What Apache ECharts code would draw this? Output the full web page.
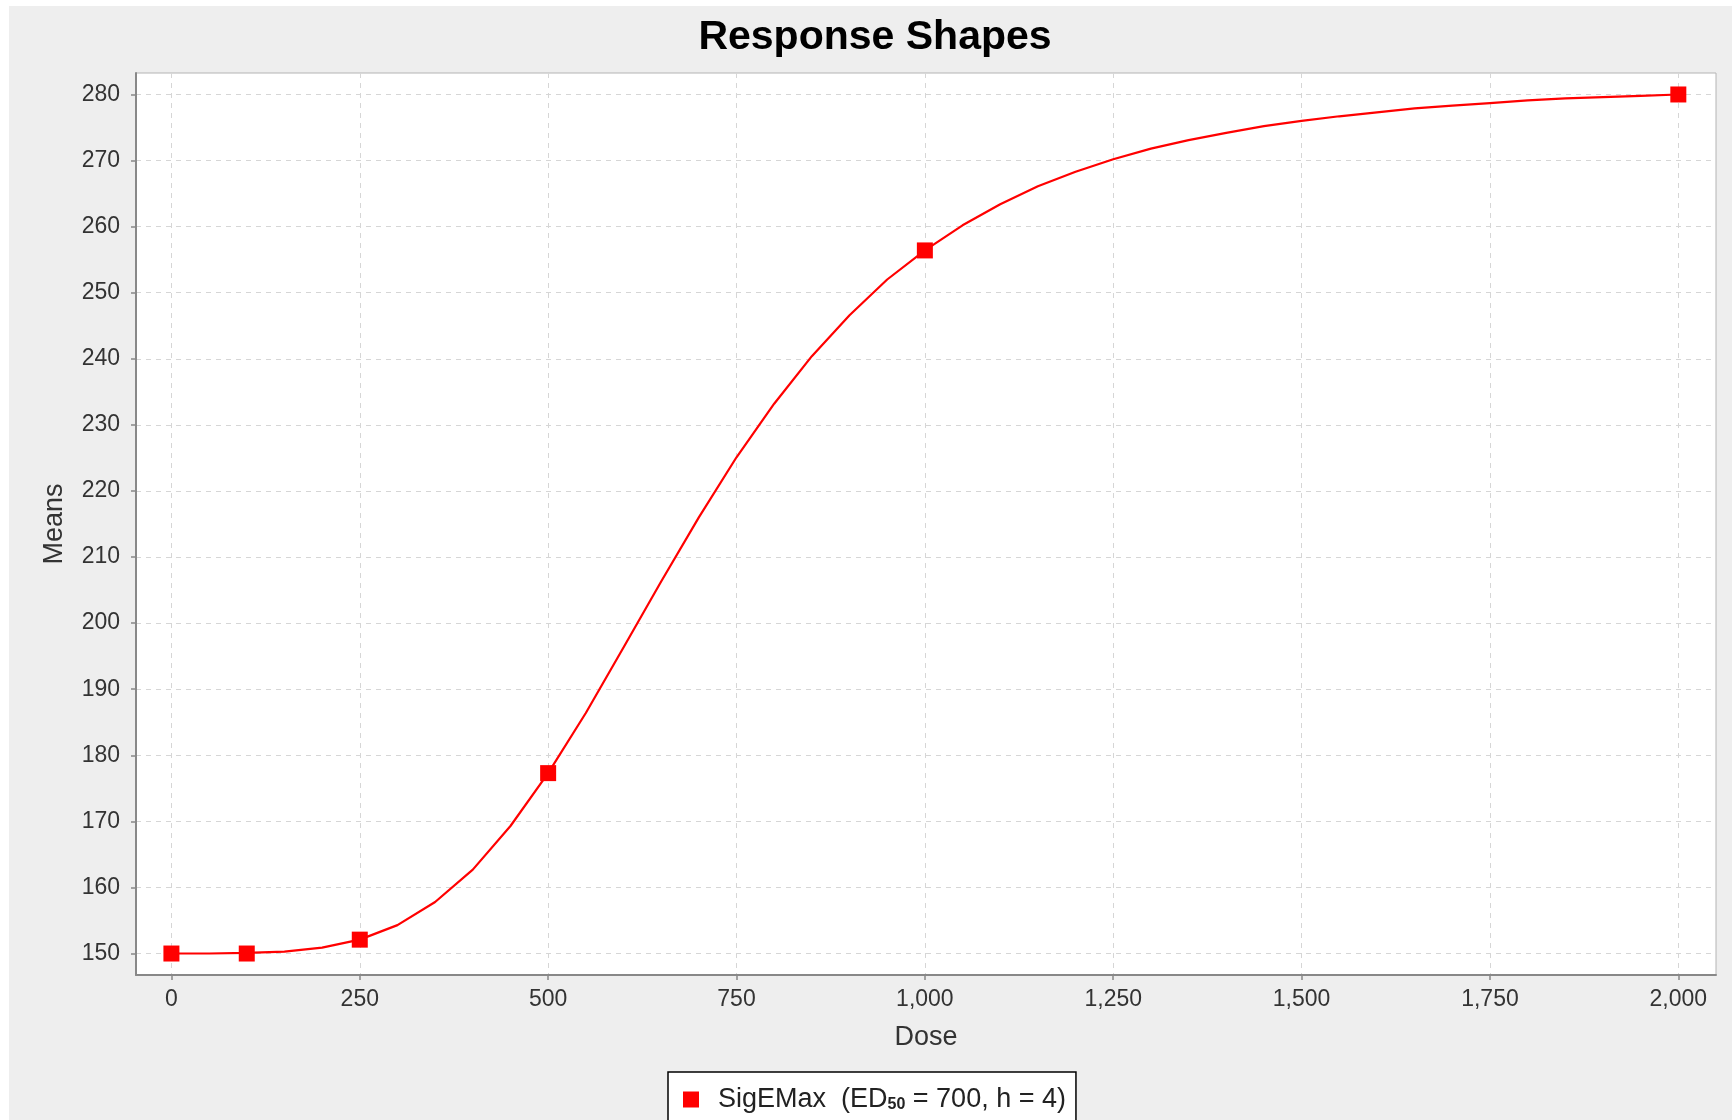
<!DOCTYPE html>
<html><head><meta charset="utf-8">
<script src="https://cdn.jsdelivr.net/npm/echarts@6/dist/echarts.min.js"></script>
<style>
html,body{margin:0;padding:0;background:#fff;width:1735px;height:1120px;overflow:hidden;}
#c{position:absolute;left:9px;top:6px;width:1723px;height:1114px;}
</style>
</head><body><div id="c"></div>
<script>
const titleText = 'Response Shapes';
const seriesName = 'SigEMax';
const xName = 'Dose';
const yName = 'Means';
// curve (dose, mean)
const curveDose = [0,50,100,150,200,250,300,350,400,450,500,550,600,650,700,750,800,850,900,950,1000,1050,1100,1150,1200,1250,1300,1350,1400,1450,1500,1550,1600,1650,1700,1750,1800,1850,1900,1950,2000];
const curveMean = [150.0,150.0,150.1,150.3,150.9,152.1,154.3,157.8,162.7,169.3,177.3,186.4,196.3,206.3,216.0,225.1,233.2,240.4,246.6,252.0,256.4,260.2,263.4,266.1,268.3,270.2,271.8,273.1,274.2,275.2,276.0,276.7,277.3,277.9,278.3,278.7,279.1,279.4,279.6,279.8,280.0];
// marked points
const pointDose = [0,100,250,500,1000,2000];
const pointMean = [150.0,150.0,152.1,177.3,256.4,280.0];
// tick labels
const xTicks = [0,250,500,750,1000,1250,1500,1750,2000];
const yTicks = [150,160,170,180,190,200,210,220,230,240,250,260,270,280];
const legendLabel = 'SigEMax  (ED{sub|50} = 700, h = 4)';

const FONT = '"Liberation Sans", Arial, sans-serif';
const chart = echarts.init(document.getElementById('c'));
const fmtX = v => Number(v).toLocaleString('en-US');

chart.setOption({
  animation: false,
  backgroundColor: '#EEEEEE',
  textStyle: { fontFamily: FONT },
  title: {
    text: titleText, left: 861, top: 6, textAlign: 'center',
    textStyle: { fontSize: 41, fontWeight: 'bold', color: '#000', fontFamily: FONT }
  },
  grid: {
    left: 127, top: 67, width: 1580, height: 902,
    show: true, backgroundColor: '#fff', borderColor: '#b4b4b4', borderWidth: 1
  },
  legend: {
    data: [seriesName], left: 659, top: 1066,
    icon: 'rect', itemWidth: 16, itemHeight: 16,
    padding: [14, 10, 14, 15],
    borderColor: '#000', borderWidth: 1.5, backgroundColor: '#fff',
    formatter: () => legendLabel,
    textStyle: {
      fontSize: 27, color: '#222', fontFamily: FONT, padding: [0, 0, 0, 14],
      rich: { sub: { fontSize: 16, fontWeight: 'bold', color: '#222', verticalAlign: 'bottom', fontFamily: FONT } }
    }
  },
  xAxis: {
    type: 'value', min: -47, max: 2050,
    name: xName, nameLocation: 'middle', nameGap: 49,
    nameTextStyle: { fontSize: 27, color: '#333', fontFamily: FONT },
    axisLine: { show: true, onZero: false, lineStyle: { color: '#888', width: 2 } },
    axisTick: { show: true, customValues: xTicks, length: 5, lineStyle: { color: '#888', width: 1.5 } },
    axisLabel: { customValues: xTicks, fontSize: 23, color: '#333', margin: 13, formatter: fmtX, fontFamily: FONT },
    splitLine: { show: true, lineStyle: { type: [5, 5], color: '#d6d6d6', width: 1 } }
  },
  yAxis: {
    type: 'value', min: 146.75, max: 283.25,
    name: yName, nameLocation: 'middle', nameGap: 68, nameRotate: 90,
    nameTextStyle: { fontSize: 27, color: '#333', fontFamily: FONT },
    axisLine: { show: true, onZero: false, lineStyle: { color: '#888', width: 2 } },
    axisTick: { show: true, customValues: yTicks, length: 5, lineStyle: { color: '#888', width: 1.5 } },
    axisLabel: { customValues: yTicks, fontSize: 23, color: '#333', margin: 16, fontFamily: FONT },
    splitLine: { show: true, lineStyle: { type: [5, 5], color: '#d6d6d6', width: 1 } }
  },
  series: [
    {
      name: seriesName, type: 'line', symbol: 'none', showSymbol: false,
      data: curveDose.map((d, i) => [d, curveMean[i]]),
      lineStyle: { color: '#ff0000', width: 2.2 }, itemStyle: { color: '#ff0000' },
      z: 2
    },
    {
      name: seriesName, type: 'scatter', symbol: 'rect', symbolSize: 16,
      data: pointDose.map((d, i) => [d, pointMean[i]]),
      itemStyle: { color: '#ff0000', opacity: 1 }, z: 3
    }
  ]
});
</script>
</body></html>
